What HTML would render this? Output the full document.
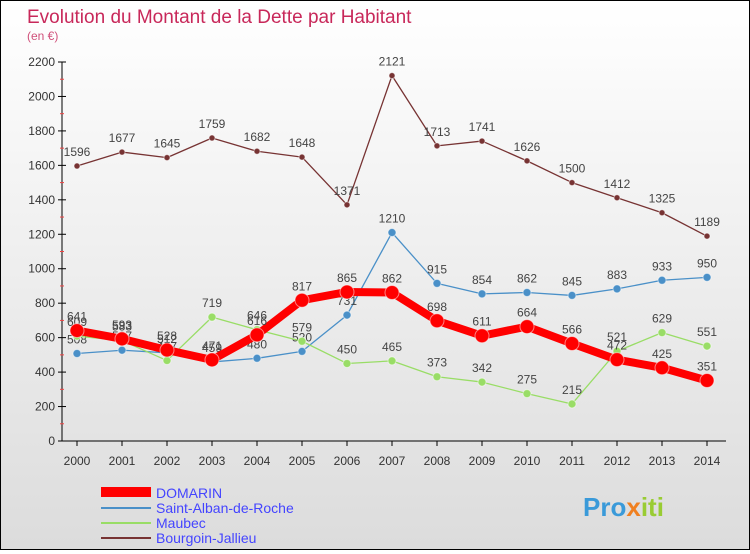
<!DOCTYPE html>
<html><head><meta charset="utf-8"><style>
body{margin:0;width:750px;height:550px;overflow:hidden;font-family:"Liberation Sans",sans-serif}
#wrap{position:absolute;left:0;top:0;width:748px;height:548px;border:1px solid #000;background:linear-gradient(#fff,#dcdcdc)}
</style></head><body>
<div id="wrap">
<svg id="c" width="748" height="548">
<text x="26" y="22" font-size="19" fill="#c8285a">Evolution du Montant de la Dette par Habitant</text>
<text x="26" y="39" font-size="12" fill="#d0507a">(en €)</text>
<g id="ax"></g><g id="ser"></g>
<g>
<rect x="100" y="486" width="50" height="10" fill="#f00"/>
<text x="155" y="497" font-size="14" fill="#44f">DOMARIN</text>
<line x1="100" y1="507" x2="150" y2="507" stroke="#4a90c8" stroke-width="2"/>
<text x="155" y="512" font-size="14" fill="#44f">Saint-Alban-de-Roche</text>
<line x1="100" y1="522" x2="150" y2="522" stroke="#99dd66" stroke-width="2"/>
<text x="155" y="527" font-size="14" fill="#44f">Maubec</text>
<line x1="100" y1="537" x2="150" y2="537" stroke="#773333" stroke-width="2"/>
<text x="155" y="542" font-size="14" fill="#44f">Bourgoin-Jallieu</text>
</g>
<text x="582" y="515" font-size="26" font-weight="bold" fill="#3a9ad9">Pro<tspan fill="#f08020">x</tspan><tspan fill="#9c3">iti</tspan></text>
</svg></div>
<script>
const years=[2000,2001,2002,2003,2004,2005,2006,2007,2008,2009,2010,2011,2012,2013,2014];
const yTicks=[0,200,400,600,800,1000,1200,1400,1600,1800,2000,2200];
const domarin=[641,593,528,471,616,817,865,862,698,611,664,566,472,425,351];
const stAlban=[508,527,512,459,480,520,731,1210,915,854,862,845,883,933,950];
const maubec=[609,583,467,719,646,579,450,465,373,342,275,215,521,629,551];
const bourgoin=[1596,1677,1645,1759,1682,1648,1371,2121,1713,1741,1626,1500,1412,1325,1189];
const NS="http://www.w3.org/2000/svg";
const X=i=>76+i*45, Y=v=>440-v*379/2200;
function mk(t,a,p){const e=document.createElementNS(NS,t);for(const k in a)e.setAttribute(k,a[k]);p.appendChild(e);return e;}
const ax=document.getElementById('ax'),ser=document.getElementById('ser');
let l=mk('line',{x1:61,y1:Y(0),x2:61,y2:Y(2200),stroke:'#000'},ax);

l=mk('line',{x1:61,y1:Y(0),x2:725,y2:Y(0),stroke:'#000'},ax);

yTicks.forEach(v=>{mk('line',{x1:57,x2:65,y1:Y(v),y2:Y(v),stroke:'#000'},ax);
 if(v<2200)mk('line',{x1:59,x2:63,y1:Y(v+100),y2:Y(v+100),stroke:'#e44'},ax);
 const t=mk('text',{x:54,y:Y(v)+4,'text-anchor':'end','font-size':12,fill:'#333'},ax);t.textContent=v;
 });
years.forEach((y,i)=>{mk('line',{x1:X(i),x2:X(i),y1:440,y2:445,stroke:'#000'},ax);
 const t=mk('text',{x:X(i),y:464,'text-anchor':'middle','font-size':12,fill:'#333'},ax);t.textContent=y;
 });
function series(d,col,w,r,name){const g=mk('g',{},ser);
 
 mk('polyline',{points:d.map((v,i)=>X(i)+','+Y(v)).join(' '),fill:'none',stroke:col,'stroke-width':w,'stroke-linejoin':'round'},g);
 d.forEach((v,i)=>{const c=mk('circle',{cx:X(i),cy:Y(v),r:r,fill:col,stroke:'#fff','stroke-opacity':0.5},g);
  
  const t=mk('text',{x:X(i),y:Y(v)-10,'text-anchor':'middle','font-size':12,fill:'#444'},g);t.textContent=v;});}
series(bourgoin,'#773333',1.3,3,'bourgoin');
series(stAlban,'#4a90c8',1.3,4,'saint-alban');
series(maubec,'#99dd66',1.3,4,'maubec');
series(domarin,'#f00',8,7,'domarin');
</script></body></html>
